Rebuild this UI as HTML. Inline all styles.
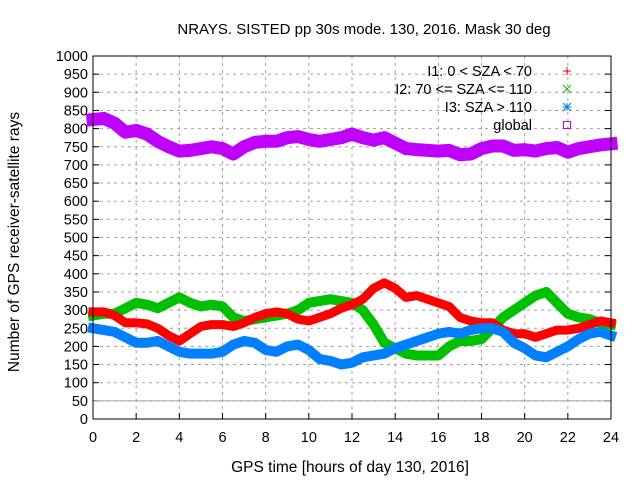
<!DOCTYPE html>
<html><head><meta charset="utf-8"><style>
body{margin:0;background:#fff}
svg{display:block;font-family:"Liberation Sans",sans-serif}
</style></head><body>
<svg id="c" width="640" height="480"></svg>
<script>
const hours=[0,0.5,1,1.5,2,2.5,3,3.5,4,4.5,5,5.5,6,6.5,7,7.5,8,8.5,9,9.5,10,10.5,11,11.5,12,12.5,13,13.5,14,14.5,15,15.5,16,16.5,17,17.5,18,18.5,19,19.5,20,20.5,21,21.5,22,22.5,23,23.5,24];
const globalVals=[825,828,815,790,795,785,765,750,738,740,745,750,745,730,750,762,765,765,775,778,770,765,770,775,785,775,768,775,760,745,742,740,738,740,728,730,745,752,752,740,742,738,745,748,735,745,750,755,758];
const i1Vals=[295,295,285,265,265,262,250,230,215,235,255,260,260,255,265,280,290,295,290,275,270,280,290,305,315,330,360,375,360,335,340,330,320,310,280,270,265,265,245,235,235,225,235,245,245,250,260,270,265];
const i2Vals=[285,290,290,305,320,315,305,320,335,320,310,315,310,280,270,275,280,285,290,300,320,325,330,325,320,300,260,210,195,180,175,175,175,200,215,215,220,250,280,300,320,340,350,320,290,280,275,265,260];
const i3Vals=[250,245,240,225,210,210,215,200,185,180,180,180,185,205,215,210,190,185,200,205,190,165,160,150,155,170,175,180,195,205,215,225,235,240,235,245,250,250,240,210,195,175,170,185,200,220,235,240,230];
const xTicks=[0,2,4,6,8,10,12,14,16,18,20,22,24];
const yTicks=[0,50,100,150,200,250,300,350,400,450,500,550,600,650,700,750,800,850,900,950,1000];
const legendLabels=["I1: 0 < SZA < 70","I2: 70 <= SZA <= 110","I3: SZA > 110","global"];

const L=93,R=611,T=56,B=419;
const X=h=>L+(h/24)*(R-L);
const Y=v=>B-(v/1000)*(B-T);
const svg=document.getElementById('c');
const NS='http://www.w3.org/2000/svg';
function mk(tag,attrs,parent){const e=document.createElementNS(NS,tag);for(const k in attrs)e.setAttribute(k,attrs[k]);(parent||svg).appendChild(e);return e;}

for(const t of yTicks){
  if(t>0&&t<1000){const g=mk('line',{x1:L,x2:R,y1:Y(t),y2:Y(t),stroke:'#a0a0a0','stroke-dasharray':'3,4','stroke-width':1});
  
  }
  const tk=mk('line',{x1:L,x2:L+6,y1:Y(t),y2:Y(t),stroke:'#000'});
  
  
  const tk2=mk('line',{x1:R-6,x2:R,y1:Y(t),y2:Y(t),stroke:'#000'});
  
  
  const lb=mk('text',{x:L-5,y:Y(t)+5,'text-anchor':'end','font-size':14.5,fill:'#000'});
  lb.textContent=t;
  
  
}
for(const t of xTicks){
  if(t>0&&t<24){const g=mk('line',{x1:X(t),x2:X(t),y1:T,y2:B,stroke:'#a0a0a0','stroke-dasharray':'3,4','stroke-width':1});
  
  }
  const tk=mk('line',{x1:X(t),x2:X(t),y1:B,y2:B-6,stroke:'#000'});
  
  
  const lb=mk('text',{x:X(t),y:B+23,'text-anchor':'middle','font-size':14.5,fill:'#000'});
  lb.textContent=t;
  
  
}
const ref=mk('line',{x1:L,x2:R,y1:Y(50),y2:Y(50),stroke:'#a0a0a0','stroke-width':1});



function series(vals,color,w,name){
  const pts=hours.map((h,i)=>X(h)+','+Y(vals[i])).join(' ');
  const p=mk('polyline',{points:pts,fill:'none',stroke:color,'stroke-width':w,'stroke-linejoin':'round','stroke-linecap':'square'});
  
  
}
series(globalVals,'#c000ff',13,'series-global');
series(i2Vals,'#00c000',10,'series-i2');
series(i1Vals,'#ff0000',9,'series-i1');
series(i3Vals,'#0080ff',10,'series-i3');

const frame=mk('rect',{x:L,y:T,width:R-L,height:B-T,fill:'none',stroke:'#000','stroke-width':1});



const ly=[71,89,107,125];
legendLabels.forEach((s,i)=>{
  const t=mk('text',{x:532,y:ly[i]+5,'text-anchor':'end','font-size':14.5,fill:'#000'});
  t.textContent=s;
  
  
});
const cx=567;
let g=mk('g',{stroke:'#ff0000'});
mk('line',{x1:cx-4,x2:cx+4,y1:ly[0],y2:ly[0]},g);mk('line',{x1:cx,x2:cx,y1:ly[0]-4,y2:ly[0]+4},g);
g=mk('g',{stroke:'#00c000'});
mk('line',{x1:cx-4,x2:cx+4,y1:ly[1]-4,y2:ly[1]+4},g);mk('line',{x1:cx-4,x2:cx+4,y1:ly[1]+4,y2:ly[1]-4},g);
g=mk('g',{stroke:'#0080ff'});
mk('line',{x1:cx-4,x2:cx+4,y1:ly[2]-4,y2:ly[2]+4},g);mk('line',{x1:cx-4,x2:cx+4,y1:ly[2]+4,y2:ly[2]-4},g);
mk('line',{x1:cx-4,x2:cx+4,y1:ly[2],y2:ly[2]},g);mk('line',{x1:cx,x2:cx,y1:ly[2]-4,y2:ly[2]+4},g);
g=mk('rect',{x:cx-3.5,y:ly[3]-3.5,width:7,height:7,fill:'none',stroke:'#c000ff'});


let t=mk('text',{x:364,y:34,'text-anchor':'middle','font-size':15,fill:'#000'});
t.textContent='NRAYS. SISTED pp 30s mode. 130, 2016. Mask 30 deg';

t=mk('text',{x:350,y:472,'text-anchor':'middle','font-size':15.5,fill:'#000'});
t.textContent='GPS time [hours of day 130, 2016]';

t=mk('text',{x:0,y:0,'text-anchor':'middle','font-size':15.5,fill:'#000',transform:'translate(19,242) rotate(-90)'});
t.textContent='Number of GPS receiver-satellite rays';

</script>
</body></html>
